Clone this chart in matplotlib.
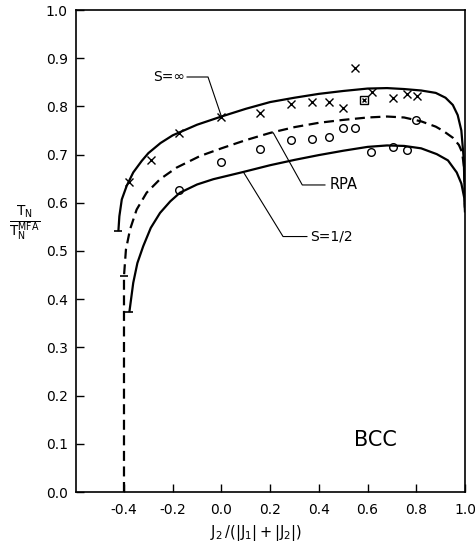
import matplotlib
matplotlib.use('Agg')
import matplotlib.pyplot as plt

# ---- data ----
# S = infinity curve (solid, upper)
s_inf_x = [-0.423, -0.419, -0.409, -0.389, -0.362, -0.327, -0.300, -0.25, -0.20, -0.10,
           0.0, 0.1, 0.2, 0.3, 0.4, 0.5, 0.6, 0.68, 0.75, 0.82, 0.88, 0.92, 0.95, 0.97,
           0.985, 0.995, 1.0]
s_inf_y = [0.541, 0.572, 0.607, 0.635, 0.663, 0.687, 0.703, 0.724, 0.740, 0.762,
           0.779, 0.795, 0.809, 0.818, 0.826, 0.832, 0.837, 0.838, 0.836, 0.833, 0.828,
           0.818, 0.803, 0.782, 0.750, 0.690, 0.590]

# RPA curve (dashed)
rpa_x = [-0.400, -0.400, -0.392, -0.375, -0.348, -0.307, -0.252, -0.184, -0.088, 0.0,
         0.1, 0.2, 0.3, 0.4, 0.5, 0.6, 0.68, 0.75, 0.82, 0.88, 0.911, 0.95, 0.975,
         0.988, 0.997, 1.0]
rpa_y = [0.0, 0.448, 0.503, 0.545, 0.586, 0.621, 0.649, 0.673, 0.697, 0.713,
         0.730, 0.745, 0.757, 0.766, 0.772, 0.777, 0.779, 0.777, 0.769, 0.758, 0.749,
         0.735, 0.720, 0.705, 0.670, 0.590]

# S = 1/2 curve (solid, lower)
s_half_x = [-0.378, -0.362, -0.345, -0.321, -0.29, -0.252, -0.21, -0.170, -0.10, -0.033,
            0.09, 0.2, 0.3, 0.4, 0.5, 0.6, 0.68, 0.75, 0.82, 0.884, 0.93, 0.966,
            0.985, 0.997, 1.0]
s_half_y = [0.373, 0.434, 0.475, 0.510, 0.548, 0.579, 0.603, 0.621, 0.638, 0.649,
            0.664, 0.678, 0.689, 0.699, 0.708, 0.716, 0.719, 0.718, 0.713, 0.701, 0.688,
            0.663, 0.640, 0.610, 0.580]

# simulation points: crosses
cross_x = [-0.378, -0.290, -0.174, 0.0, 0.16, 0.284, 0.373, 0.443, 0.500, 0.548,
           0.618, 0.706, 0.760, 0.801]
cross_y = [0.643, 0.688, 0.745, 0.777, 0.787, 0.806, 0.809, 0.809, 0.796, 0.879,
           0.830, 0.818, 0.825, 0.822]

# simulation points: circles
circ_x = [-0.174, -0.003, 0.158, 0.284, 0.373, 0.443, 0.500, 0.548, 0.614, 0.706,
          0.763, 0.799]
circ_y = [0.627, 0.685, 0.711, 0.730, 0.732, 0.737, 0.755, 0.755, 0.705, 0.716,
          0.710, 0.771]

# boxed point
box_x = [0.586]
box_y = [0.814]

x_ticks = [-0.4, -0.2, 0.0, 0.2, 0.4, 0.6, 0.8, 1.0]
x_tick_labels = ['-0.4', '-0.2', '0.0', '0.2', '0.4', '0.6', '0.8', '1.0']
y_ticks = [0.0, 0.1, 0.2, 0.3, 0.4, 0.5, 0.6, 0.7, 0.8, 0.9, 1.0]
y_tick_labels = ['0.0', '0.1', '0.2', '0.3', '0.4', '0.5', '0.6', '0.7', '0.8', '0.9', '1.0']

# ---- figure ----
W, H = 475, 546
fig = plt.figure(figsize=(W / 100, H / 100), dpi=100)
ax = fig.add_axes([76 / W, 54 / H, (465 - 76) / W, (492 - 10) / H])
ax.set_xlim(-0.597, 1.0)
ax.set_ylim(0.0, 1.0)

lw = 1.6
ax.plot(s_inf_x, s_inf_y, color='black', lw=lw, solid_capstyle='butt')
ax.plot(rpa_x, rpa_y, color='black', lw=lw, linestyle=(0, (4.5, 2.5)))
ax.plot(s_half_x, s_half_y, color='black', lw=lw, solid_capstyle='butt')

# end caps at curve starts
ax.plot([s_inf_x[0], rpa_x[1], s_half_x[0]], [s_inf_y[0], rpa_y[1], s_half_y[0]],
        linestyle='none', marker='_', markersize=6, mew=1.2, color='black')

ax.plot(cross_x, cross_y, linestyle='none', marker='x', markersize=6, mew=1.0, color='black')
ax.plot(circ_x, circ_y, linestyle='none', marker='o', markersize=5.5, mew=1.0,
        mfc='none', mec='black')
ax.plot(box_x, box_y, linestyle='none', marker='s', markersize=5.5, mew=1.0,
        mfc='none', mec='black')
ax.plot(box_x, box_y, linestyle='none', marker='x', markersize=3.5, mew=1.0, color='black')

# annotations with leader lines
tl = 0.8
ax.plot([-0.141, -0.055, 0.0], [0.861, 0.861, 0.779], color='black', lw=tl)
ax.text(-0.150, 0.861, 'S=\u221e', ha='right', va='center', fontsize=10)

ax.plot([0.213, 0.332, 0.425], [0.745, 0.637, 0.637], color='black', lw=tl)
ax.text(0.446, 0.637, 'RPA', ha='left', va='center', fontsize=10.5)

ax.plot([0.09, 0.253, 0.351], [0.664, 0.530, 0.530], color='black', lw=tl)
ax.text(0.364, 0.530, 'S=1/2', ha='left', va='center', fontsize=10)

ax.text(0.72, 0.108, 'BCC', ha='right', va='center', fontsize=15)

ax.set_xticks(x_ticks)
ax.set_xticklabels(x_tick_labels)
ax.set_yticks(y_ticks)
ax.set_yticklabels(y_tick_labels)
ax.tick_params(direction='in', length=6, width=1.0, labelsize=10,
               top=False, right=False)
ax.tick_params(axis='x', pad=8)
ax.tick_params(axis='y', pad=6)
for s in ax.spines.values():
    s.set_linewidth(1.2)

fig.text(25 / W, (H - 223) / H, r'$\frac{\mathrm{T_N}}{\mathrm{T_N^{MFA}}}$',
         ha='center', va='center', fontsize=14)
fig.text(256 / W, (H - 533) / H, r'$\mathrm{J_2\,/(|J_1|+|J_2|)}$',
         ha='center', va='center', fontsize=10.5)

fig.savefig('out.png', dpi=100)
